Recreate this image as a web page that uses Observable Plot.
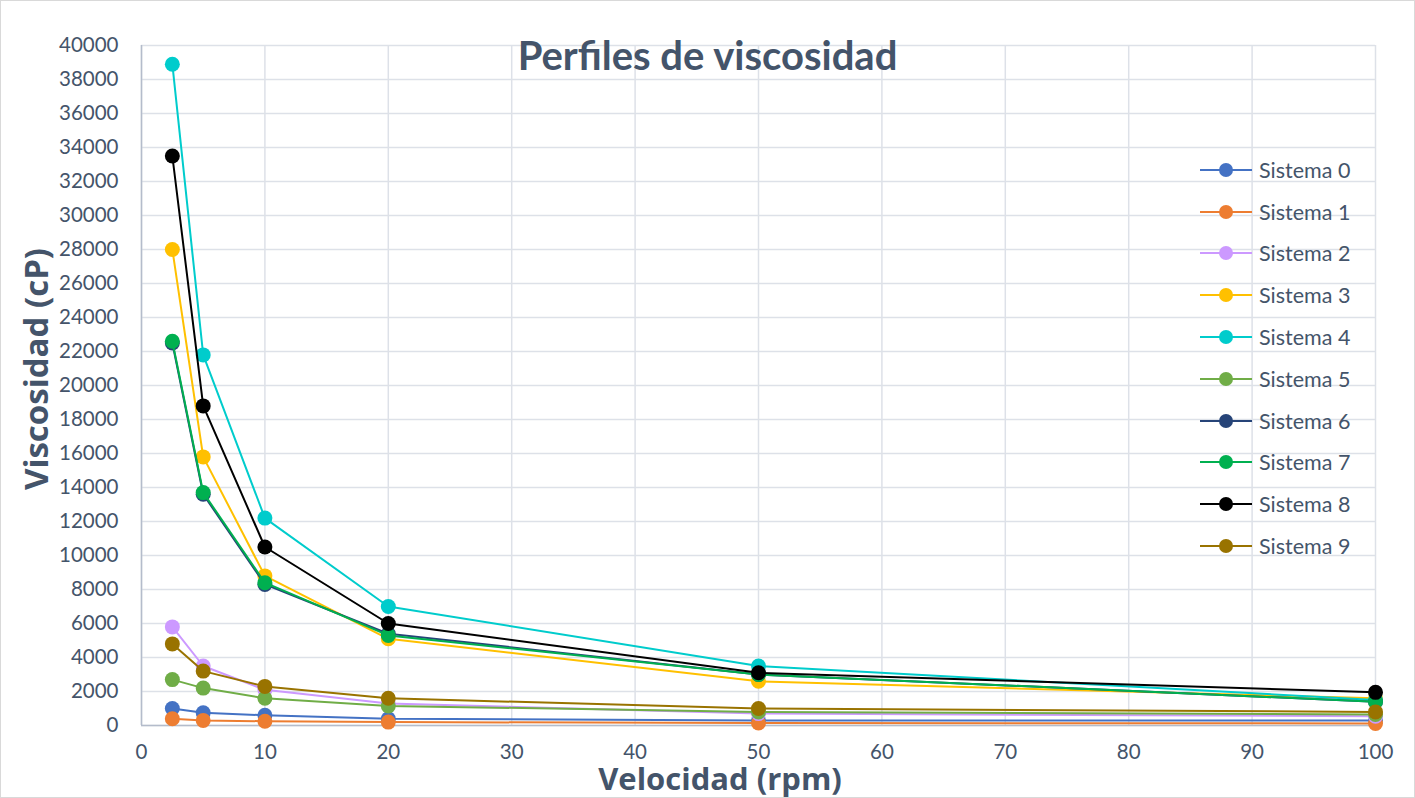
<!DOCTYPE html>
<html>
<head>
<meta charset="utf-8">
<script src="https://cdn.jsdelivr.net/npm/d3@7"></script>
<script src="https://cdn.jsdelivr.net/npm/@observablehq/plot@0.6"></script>
<style>
  html, body { margin: 0; padding: 0; background: #fff; }
  #wrap { position: relative; width: 1415px; height: 798px; overflow: hidden; font-family: Lato, "Open Sans", sans-serif; }
  #frame { position: absolute; left: 0; top: 0; width: 1413px; height: 796px; border: 1px solid #d9d9d9; pointer-events: none; }
  #title { position: absolute; left: 0; width: 1415px; top: 31px; text-align: center; font-size: 40px; font-weight: bold; color: #44546a; }
  #ylab { position: absolute; left: 36px; top: 369px; transform: translate(-50%, -50%) rotate(-90deg); font-family: "Open Sans", sans-serif; font-size: 33px; font-weight: bold; color: #44546a; white-space: nowrap; line-height: 1.2; }
  #xlab { position: absolute; left: 720px; top: 760px; transform: translateX(-50%); font-family: "Open Sans", sans-serif; font-size: 31px; font-weight: bold; color: #44546a; white-space: nowrap; line-height: 1.2; }
  #legend { position: absolute; left: 1198px; top: 149px; }
  .li { display: flex; align-items: center; height: 41.8px; font-size: 21.5px; color: #44546a; }
  .li svg { margin-right: 5px; }
</style>
</head>
<body>
<div id="wrap">
  <div id="chart"></div>
  <div id="title">Perfiles de viscosidad</div>
  <div id="ylab">Viscosidad (cP)</div>
  <div id="xlab">Velocidad (rpm)</div>
  <div id="legend"></div>
  <div id="frame"></div>
</div>
<script>
const velocidades = [2.5, 5, 10, 20, 50, 100];
const sistemas = ["Sistema 0","Sistema 1","Sistema 2","Sistema 3","Sistema 4","Sistema 5","Sistema 6","Sistema 7","Sistema 8","Sistema 9"];
const colores = ["#4472c4","#ed7d31","#cc99ff","#ffc000","#00cccc","#70ad47","#264478","#00b050","#000000","#997300"];
const s0 = [1000, 750, 600, 400, 300, 300];
const s1 = [400, 300, 250, 200, 150, 120];
const s2 = [5800, 3500, 2100, 1300, 700, 550];
const s3 = [28000, 15800, 8800, 5100, 2600, 1600];
const s4 = [38900, 21800, 12200, 7000, 3500, 1500];
const s5 = [2700, 2200, 1600, 1150, 800, 650];
const s6 = [22500, 13600, 8300, 5400, 3000, 1400];
const s7 = [22600, 13700, 8400, 5300, 3000, 1400];
const s8 = [33500, 18800, 10500, 6000, 3100, 1950];
const s9 = [4800, 3200, 2300, 1600, 1000, 800];
const xTicks = [0,10,20,30,40,50,60,70,80,90,100];
const yTicks = [0,2000,4000,6000,8000,10000,12000,14000,16000,18000,20000,22000,24000,26000,28000,30000,32000,34000,36000,38000,40000];

const valores = [s0,s1,s2,s3,s4,s5,s6,s7,s8,s9];
const series = sistemas.map((name, i) => valores[i].map((v, j) => ({serie: name, x: velocidades[j], y: v})));

const gridColor = "#dde1e8";
const axisColor = "#b4bccb";
const font = "Lato, 'Open Sans', sans-serif";

const seriesMarks = [];
series.forEach(rows => {
  seriesMarks.push(Plot.line(rows, {x: "x", y: "y", stroke: "serie", strokeWidth: 2}));
  seriesMarks.push(Plot.dot(rows, {x: "x", y: "y", fill: "serie", r: 7.5}));
});

const chart = Plot.plot({
  width: 1415, height: 798,
  marginLeft: 141, marginRight: 40, marginTop: 45, marginBottom: 73,
  style: {fontFamily: font, fontSize: "20px", color: "#44546a", background: "transparent"},
  x: {domain: [0, 100]},
  y: {domain: [0, 40000]},
  color: {domain: sistemas, range: colores},
  marks: [
    Plot.gridX(xTicks, {stroke: gridColor, strokeOpacity: 1, strokeWidth: 1.5}),
    Plot.gridY(yTicks, {stroke: gridColor, strokeOpacity: 1, strokeWidth: 1.5}),
    Plot.ruleX([0], {stroke: axisColor, strokeWidth: 1.5}),
    Plot.ruleY([0], {stroke: axisColor, strokeWidth: 1.5}),
    ...seriesMarks,
    Plot.axisX(xTicks, {tickSize: 0, tickPadding: 19, label: null, fontSize: 20.5, tickFormat: d => String(d)}),
    Plot.axisY(yTicks, {tickSize: 0, tickPadding: 23, label: null, fontSize: 20.5, tickFormat: d => String(d)})
  ]
});
document.getElementById("chart").appendChild(chart);

const leg = d3.select("#legend");
sistemas.forEach((name, i) => {
  const item = leg.append("div").attr("class", "li");
  const svg = item.append("svg").attr("width", 56).attr("height", 18);
  svg.append("line").attr("x1", 2).attr("x2", 54).attr("y1", 9).attr("y2", 9).attr("stroke", colores[i]).attr("stroke-width", 2);
  svg.append("circle").attr("cx", 28).attr("cy", 9).attr("r", 7).attr("fill", colores[i]);
  item.append("span").text(name);
});
</script>
</body>
</html>
